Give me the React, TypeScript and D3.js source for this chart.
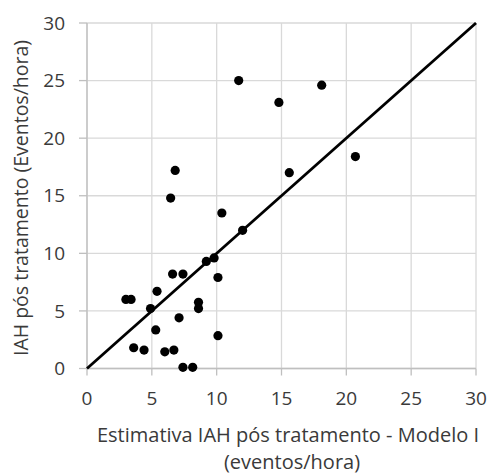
import React from "react";
import * as d3 from "d3";

// estimated vs observed post-treatment AHI (events/hour)
const estimado = [
  11.7, 14.8, 18.1, 6.8, 6.45, 15.6, 20.7, 10.4, 12.0, 9.2, 9.8, 6.6, 7.4, 10.1, 5.4,
  3.0, 3.4, 8.6, 8.6, 4.9, 7.1, 5.3, 10.1, 3.6, 4.4, 6.0, 6.7, 7.4, 8.15,
];
const observado = [
  25.0, 23.1, 24.6, 17.2, 14.8, 17.0, 18.4, 13.5, 12.0, 9.3, 9.6, 8.2, 8.2, 7.9, 6.7,
  6.0, 6.0, 5.75, 5.2, 5.2, 4.4, 3.35, 2.85, 1.8, 1.6, 1.45, 1.6, 0.1, 0.1,
];
const identidade = [0, 30];
const ticks = [0, 5, 10, 15, 20, 25, 30];

const width = 491;
const height = 474;
const margin = { left: 87, right: 15, top: 23, bottom: 105.5 };

export default function App() {
  const x = d3.scaleLinear().domain([0, 30]).range([margin.left, width - margin.right]);
  const y = d3.scaleLinear().domain([0, 30]).range([height - margin.bottom, margin.top]);

  const line = d3
    .line<number>()
    .x((d) => x(d))
    .y((d) => y(d));

  const font = "'Open Sans', sans-serif";
  const grid = "#d9d9d9";
  const axis = "#bfbfbf";
  const txt = "#3a3a3a";

  return (
    <svg
      width={width}
      height={height}
      style={{ position: "absolute", left: 0, top: 0, background: "#fff" }}
      fontFamily={font}
    >
      {/* gridlines */}
      {ticks.map((t) => (
        <line key={"gx" + t} x1={x(t)} x2={x(t)} y1={y(0)} y2={y(30)} stroke={grid} strokeWidth={1.3} />
      ))}
      {ticks.map((t) => (
        <line key={"gy" + t} x1={x(0)} x2={x(30)} y1={y(t)} y2={y(t)} stroke={grid} strokeWidth={1.3} />
      ))}
      {/* axes */}
      <line x1={x(0)} x2={x(0)} y1={y(0)} y2={y(30)} stroke={axis} strokeWidth={1.3} />
      <line x1={x(0)} x2={x(30)} y1={y(0)} y2={y(0)} stroke={axis} strokeWidth={1.3} />
      {ticks.map((t) => (
        <g key={"ty" + t}>
          <line x1={x(0) - 8} x2={x(0)} y1={y(t)} y2={y(t)} stroke={axis} strokeWidth={1.3} />
          <text x={65} y={y(t)} dy="0.35em" textAnchor="end" fontSize={19} fill={txt}>
            {t}
          </text>
        </g>
      ))}
      {ticks.map((t) => (
        <g key={"tx" + t}>
          <line x1={x(t)} x2={x(t)} y1={y(0)} y2={y(0) + 7} stroke={axis} strokeWidth={1.3} />
          <text x={x(t)} y={405} textAnchor="middle" fontSize={19} fill={txt}>
            {t}
          </text>
        </g>
      ))}
      {/* identity line */}
      <path d={line(identidade) ?? ""} fill="none" stroke="#000" strokeWidth={2.8} />
      {/* points */}
      {estimado.map((v, i) => (
        <circle key={i} cx={x(v)} cy={y(observado[i])} r={4.6} fill="#000" />
      ))}
      {/* axis titles */}
      <text
        transform={`translate(28,198) rotate(-90)`}
        textAnchor="middle"
        fontSize={19.5}
        fill={txt}
      >
        IAH pós tratamento (Eventos/hora)
      </text>
      <text x={288} y={442} textAnchor="middle" fontSize={20} fill={txt}>
        Estimativa IAH pós tratamento - Modelo I
      </text>
      <text x={292} y={469} textAnchor="middle" fontSize={20} fill={txt}>
        (eventos/hora)
      </text>
    </svg>
  );
}
